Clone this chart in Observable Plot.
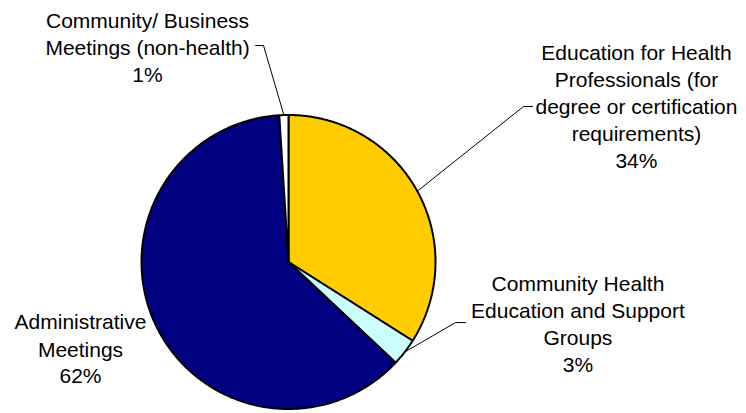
<!DOCTYPE html>
<html>
<head>
<meta charset="utf-8">
<script src="https://cdn.jsdelivr.net/npm/d3@7"></script>
<script src="https://cdn.jsdelivr.net/npm/@observablehq/plot@0.6"></script>
<style>
  body { margin: 0; background: #fff; }
</style>
</head>
<body>
<div id="chart"></div>
<script>
// Slices, clockwise from 12 o'clock
const categories = [
  "Education for Health\nProfessionals (for\ndegree or certification\nrequirements)",
  "Community Health\nEducation and Support\nGroups",
  "Administrative\nMeetings",
  "Community/ Business\nMeetings (non-health)"
];
const shares = [34, 3, 62, 1];
const colors = ["#FFCC00", "#CCFFFF", "#000080", "#FFFFFF"];

// Label layout in pie-radius units (centre = 0,0, radius = 1, y up)
const labelPos = [[2.367, 1.063], [1.969, -0.417], [-1.415, -0.584], [-0.959, 1.467]];
// Leader elbows and tick ends (null = no leader)
const leaderElbow = [[1.599, 1.058], [1.136, -0.412], null, [-0.170, 1.473]];
const leaderTick  = [[1.660, 1.058], [1.204, -0.412], null, [-0.224, 1.473]];

const arcs = d3.pie().sort(null).value(d => d)(shares);

// Wedge outlines: centre, then points along the arc
const wedges = [];
arcs.forEach((a, i) => {
  wedges.push({slice: i, x: 0, y: 0, fill: colors[i]});
  const steps = Math.max(2, Math.ceil((a.endAngle - a.startAngle) / (Math.PI / 360)));
  for (let k = 0; k <= steps; k++) {
    const t = a.startAngle + (a.endAngle - a.startAngle) * k / steps;
    wedges.push({slice: i, x: Math.sin(t), y: Math.cos(t), fill: colors[i]});
  }
});

// Leader lines from the slice's mid-arc to the label
const leaders = [];
arcs.forEach((a, i) => {
  if (!leaderElbow[i]) return;
  const m = (a.startAngle + a.endAngle) / 2;
  leaders.push({slice: i, x: Math.sin(m), y: Math.cos(m)});
  leaders.push({slice: i, x: leaderElbow[i][0], y: leaderElbow[i][1]});
  leaders.push({slice: i, x: leaderTick[i][0], y: leaderTick[i][1]});
});

const labels = categories.map((c, i) => ({
  x: labelPos[i][0], y: labelPos[i][1], text: `${c}\n${shares[i]}%`
}));

const chart = Plot.plot({
  width: 746,
  height: 413,
  margin: 0,
  style: {fontFamily: "'Liberation Sans', Arial, sans-serif", background: "#fff"},
  x: {domain: [-1, 1], range: [141, 435], axis: null},
  y: {domain: [-1, 1], range: [408.5, 114.5], axis: null},
  color: {type: "identity"},
  marks: [
    Plot.line(wedges, {
      x: "x", y: "y", z: "slice", fill: "fill",
      stroke: "#000", strokeWidth: 2, strokeLinejoin: "miter",
      curve: "linear-closed"
    }),
    Plot.line(leaders, {x: "x", y: "y", z: "slice", stroke: "#000", strokeWidth: 1}),
    Plot.text(labels, {
      x: "x", y: "y", text: "text",
      textAnchor: "middle", lineAnchor: "middle", lineHeight: 1.286,
      fontSize: 21, fill: "#000"
    })
  ]
});

document.getElementById("chart").append(chart);
</script>
</body>
</html>
